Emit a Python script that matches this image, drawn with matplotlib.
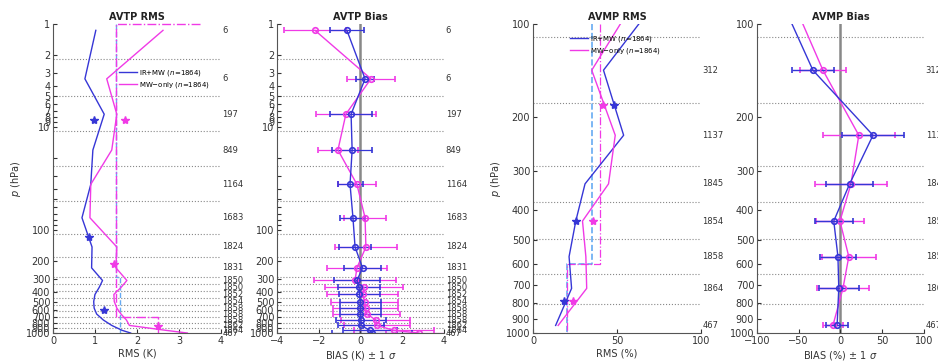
import matplotlib.pyplot as plt
from matplotlib.ticker import NullLocator

# ---------------- AVTP (temperature) ----------------
# layer mid pressures (hPa), last one is the surface point
tp_p = [1.15, 3.4, 7.5, 16.7, 36, 76, 146, 233, 309, 361, 422, 495, 572, 654, 748, 844, 943, 1000]
tp_n = ['6', '6', '197', '849', '1164', '1683', '1824', '1831', '1850', '1850',
        '1852', '1854', '1858', '1858', '1858', '1862', '1864', '467']
tp_edges = [2.2, 5, 11, 24, 52, 110, 183, 286, 333, 390, 457, 535, 611, 700, 800, 890]

tp_rms_irmw = [1.02, 0.76, 1.22, 0.95, 0.90, 0.69, 0.93, 0.92, 1.18, 1.10,
               1.00, 0.97, 0.98, 1.04, 1.20, 1.40, 1.65, 1.85]
tp_rms_mw = [2.62, 1.28, 1.52, 1.40, 0.90, 0.88, 1.52, 1.50, 1.76, 1.62,
             1.45, 1.46, 1.52, 1.62, 1.75, 1.82, 2.70, 3.20]

tp_bias_irmw = [-0.65, 0.22, -0.45, -0.40, -0.50, -0.36, -0.26, 0.10, -0.17, -0.07,
                -0.05, 0.0, 0.0, 0.0, 0.02, 0.03, 0.45, 0.55]
tp_sd_irmw = [0.8, 0.45, 1.0, 0.95, 0.6, 0.6, 0.75, 0.9, 1.1, 1.0,
              1.0, 1.0, 1.0, 1.0, 1.2, 1.1, 1.3, 1.9]
tp_bias_mw = [-2.18, 0.5, -0.7, -1.08, -0.17, 0.22, 0.26, -0.17, -0.26, 0.17,
              0.12, 0.2, 0.25, 0.3, 0.74, 0.79, 1.6, 2.8]
tp_sd_mw = [1.5, 1.15, 1.45, 0.96, 0.93, 1.0, 1.5, 1.45, 1.98, 1.85,
            1.7, 1.6, 1.55, 1.6, 1.65, 1.6, 1.9, 1.6]

# star markers (reference values)
tp_star_p_irmw = [8.6, 117, 600]
tp_star_irmw = [0.98, 0.86, 1.21]
tp_star_p_mw = [8.6, 214, 860]
tp_star_mw = [1.71, 1.45, 2.5]

# requirement step lines
tp_req_irmw_x = [1.5, 1.5, 1.6, 1.6]
tp_req_irmw_p = [1, 286, 286, 1000]
tp_req_mw_x = [3.5, 1.5, 1.5, 2.5, 2.5]
tp_req_mw_p = [1, 1, 700, 700, 1000]

# ---------------- AVMP (moisture) ----------------
mp_p = [141, 229, 329, 434, 566, 717, 945]
mp_n = ['312', '1137', '1845', '1854', '1858', '1864', '467']
mp_edges = [110, 180, 288, 377, 496, 644, 805]

# profile lines start at the 100 hPa level
mp_p_line = [100] + mp_p
mp_rms_irmw = [63, 42, 54, 31, 25.5, 21.5, 23, 13.5]
mp_rms_mw = [52, 35, 49, 45, 29.5, 31.5, 32, 15]

mp_bias_irmw = [-58, -33, 39, 11, -8, -3, -2, -4]
mp_sd_irmw = [25, 37, 28, 23, 22, 24, 13]
mp_bias_mw = [-45, -21, 22, 12.6, -0.6, 10, 3, -9]
mp_sd_mw = [28, 43, 43, 29, 32, 31, 12]

mp_star_p = [183, 434, 790]
mp_star_irmw = [48, 25.6, 18.5]
mp_star_mw = [42, 35.6, 23.8]

mp_req_irmw_x = [35, 35, 20, 20]
mp_req_mw_x = [40, 40, 20, 20]
mp_req_p = [100, 600, 600, 1000]

BLUE = '#3636d6'
MAG = '#f03ae6'
LBLUE = '#66aaf2'
TXT = '#333333'

fig = plt.figure(figsize=(9.38, 3.63), dpi=100)
ax1 = fig.add_axes([0.0565, 0.0826, 0.179, 0.851])
ax2 = fig.add_axes([0.2953, 0.0826, 0.178, 0.851])
ax3 = fig.add_axes([0.5682, 0.0826, 0.179, 0.851])
ax4 = fig.add_axes([0.807, 0.0826, 0.178, 0.851])


def style(ax, title, edges, labels, label_p):
    ax.set_yscale('log')
    ax.yaxis.set_minor_locator(NullLocator())
    for s in ['top', 'right']:
        ax.spines[s].set_visible(False)
    for s in ['left', 'bottom']:
        ax.spines[s].set_color('#555555')
    ax.tick_params(direction='in', length=3, labelsize=7, colors=TXT, pad=2)
    ax.set_title(title, fontsize=7, fontweight='bold', pad=3, color='#222222')
    for e in edges:
        ax.axhline(e, color='#888888', ls=':', lw=0.8, zorder=0)
    tr = ax.get_yaxis_transform()
    for p, t in zip(label_p, labels):
        ax.text(1.01, p, t, transform=tr, fontsize=6, color=TXT,
                ha='left', va='center', clip_on=False)


# AVTP y ticks
tp_ticks = list(range(1, 11)) + list(range(20, 100, 10)) + list(range(100, 1001, 100))
tp_tlabels = [str(t) if (t <= 10 or t >= 100) else '' for t in tp_ticks]
mp_ticks = list(range(100, 1001, 100))

# --- AVTP RMS
style(ax1, 'AVTP RMS', tp_edges, tp_n, tp_p)
ax1.plot(tp_req_irmw_x, tp_req_irmw_p, color=LBLUE, ls='--', lw=1, clip_on=False)
ax1.plot(tp_req_mw_x, tp_req_mw_p, color=MAG, ls='-.', lw=1, clip_on=False)
ax1.plot(tp_rms_irmw, tp_p, color=BLUE, lw=1, label='IR+MW ($n$=1864)')
ax1.plot(tp_rms_mw, tp_p, color=MAG, lw=1, label='MW$-$only ($n$=1864)')
ax1.plot(tp_star_irmw, tp_star_p_irmw, ls='none', marker='*', ms=6, color=BLUE)
ax1.plot(tp_star_mw, tp_star_p_mw, ls='none', marker='*', ms=6, color=MAG)
ax1.set_xlim(0, 4)
ax1.set_ylim(1000, 1)
ax1.set_yticks(tp_ticks)
ax1.set_yticklabels(tp_tlabels)
ax1.set_xticks([0, 1, 2, 3, 4])
ax1.set_xlabel('RMS (K)', fontsize=7, color=TXT, labelpad=2)
ax1.set_ylabel('$p$ (hPa)', fontsize=7, color=TXT, labelpad=2)
ax1.legend(loc='upper left', bbox_to_anchor=(0.37, 0.87), frameon=False, fontsize=5,
           handlelength=2.6, handletextpad=0.3, labelspacing=0.3, borderpad=0)

# --- AVTP Bias
style(ax2, 'AVTP Bias', tp_edges, tp_n, tp_p)
ax2.axvline(0, color='#888888', lw=1.8, zorder=1)
ax2.errorbar(tp_bias_mw, tp_p, xerr=tp_sd_mw, color=MAG, fmt='o-', mfc='none',
             ms=4, mew=1.2, lw=1, elinewidth=0.9, capsize=2)
ax2.errorbar(tp_bias_irmw, tp_p, xerr=tp_sd_irmw, color=BLUE, fmt='o-', mfc='none',
             ms=4, mew=1.2, lw=1, elinewidth=0.9, capsize=2)
ax2.set_xlim(-4, 4)
ax2.set_ylim(1000, 1)
ax2.set_yticks(tp_ticks)
ax2.set_yticklabels(tp_tlabels)
ax2.set_xticks([-4, -2, 0, 2, 4])
ax2.set_xlabel('BIAS (K) \u00b1 1 $\\sigma$', fontsize=7, color=TXT, labelpad=2)

# --- AVMP RMS
style(ax3, 'AVMP RMS', mp_edges, mp_n, mp_p)
ax3.plot(mp_req_irmw_x, mp_req_p, color=LBLUE, ls='--', lw=1.2)
ax3.plot(mp_req_mw_x, mp_req_p, color=MAG, ls='-.', lw=0.9)
ax3.plot(mp_rms_irmw, mp_p_line, color=BLUE, lw=1, label='IR+MW ($n$=1864)')
ax3.plot(mp_rms_mw, mp_p_line, color=MAG, lw=1, label='MW$-$only ($n$=1864)')
ax3.plot(mp_star_irmw, mp_star_p, ls='none', marker='*', ms=6, color=BLUE)
ax3.plot(mp_star_mw, mp_star_p, ls='none', marker='*', ms=6, color=MAG)
ax3.set_xlim(0, 100)
ax3.set_ylim(1000, 100)
ax3.set_yticks(mp_ticks)
ax3.set_yticklabels([str(t) for t in mp_ticks])
ax3.set_xticks([0, 50, 100])
ax3.set_xlabel('RMS (%)', fontsize=7, color=TXT, labelpad=2)
ax3.set_ylabel('$p$ (hPa)', fontsize=7, color=TXT, labelpad=2)
ax3.legend(loc='upper left', bbox_to_anchor=(0.2, 0.98), frameon=False, fontsize=5,
           handlelength=2.6, handletextpad=0.3, labelspacing=0.3, borderpad=0)

# --- AVMP Bias
style(ax4, 'AVMP Bias', mp_edges, mp_n, mp_p)
ax4.axvline(0, color='#888888', lw=1.8, zorder=1)
ax4.plot(mp_bias_mw, mp_p_line, color=MAG, lw=1)
ax4.plot(mp_bias_irmw, mp_p_line, color=BLUE, lw=1)
ax4.errorbar(mp_bias_mw[1:], mp_p, xerr=mp_sd_mw, color=MAG, fmt='o', mfc='none',
             ms=4, mew=1.2, elinewidth=1, capsize=2.5)
ax4.errorbar(mp_bias_irmw[1:], mp_p, xerr=mp_sd_irmw, color=BLUE, fmt='o', mfc='none',
             ms=4, mew=1.2, elinewidth=1, capsize=2.5)
ax4.set_xlim(-100, 100)
ax4.set_ylim(1000, 100)
ax4.set_yticks(mp_ticks)
ax4.set_yticklabels([str(t) for t in mp_ticks])
ax4.set_xticks([-100, -50, 0, 50, 100])
ax4.set_xlabel('BIAS (%) \u00b1 1 $\\sigma$', fontsize=7, color=TXT, labelpad=2)

fig.savefig('out.png', dpi=100)
